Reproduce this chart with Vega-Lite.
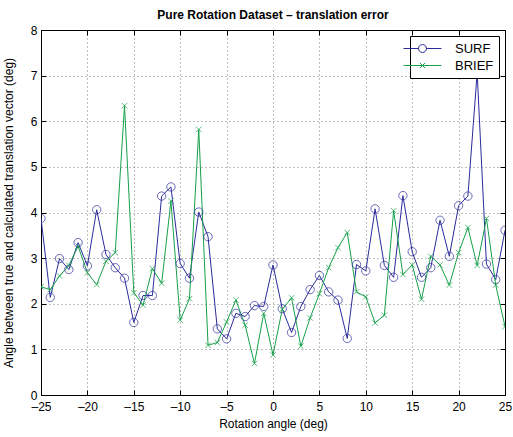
{
  "$schema": "https://vega.github.io/schema/vega-lite/v6.json",
  "autosize": "none",
  "width": 464,
  "height": 365,
  "padding": {"left": 41, "top": 30, "right": 8, "bottom": 42},
  "background": "white",
  "config": {
    "font": "Liberation Sans",
    "view": {"stroke": "black", "strokeWidth": 1},
    "axis": {
      "domainColor": "black",
      "tickColor": "black",
      "labelColor": "black",
      "titleColor": "black",
      "labelFont": "Liberation Sans",
      "titleFont": "Liberation Sans",
      "labelFontSize": 12,
      "titleFontSize": 12,
      "titleFontWeight": "normal",
      "labelFlush": false,
      "tickSize": -5,
      "gridColor": "#000000",
      "gridDash": [1, 3],
      "gridOpacity": 0.5,
      "gridWidth": 1
    }
  },
  "title": {
    "text": "Pure Rotation Dataset – translation error",
    "font": "Liberation Sans",
    "fontSize": 12,
    "fontWeight": "bold",
    "color": "black",
    "offset": 2
  },
  "data": {
    "values": [
      {"angle": -25, "method": "SURF", "error": 3.87}, {"angle": -24, "method": "SURF", "error": 2.14},
      {"angle": -23, "method": "SURF", "error": 2.99}, {"angle": -22, "method": "SURF", "error": 2.75},
      {"angle": -21, "method": "SURF", "error": 3.34}, {"angle": -20, "method": "SURF", "error": 2.83},
      {"angle": -19, "method": "SURF", "error": 4.06}, {"angle": -18, "method": "SURF", "error": 3.08},
      {"angle": -17, "method": "SURF", "error": 2.79}, {"angle": -16, "method": "SURF", "error": 2.56},
      {"angle": -15, "method": "SURF", "error": 1.59}, {"angle": -14, "method": "SURF", "error": 2.18},
      {"angle": -13, "method": "SURF", "error": 2.18}, {"angle": -12, "method": "SURF", "error": 4.36},
      {"angle": -11, "method": "SURF", "error": 4.56}, {"angle": -10, "method": "SURF", "error": 2.88},
      {"angle": -9, "method": "SURF", "error": 2.56}, {"angle": -8, "method": "SURF", "error": 4.01},
      {"angle": -7, "method": "SURF", "error": 3.47}, {"angle": -6, "method": "SURF", "error": 1.45},
      {"angle": -5, "method": "SURF", "error": 1.23}, {"angle": -4, "method": "SURF", "error": 1.79},
      {"angle": -3, "method": "SURF", "error": 1.72}, {"angle": -2, "method": "SURF", "error": 1.96},
      {"angle": -1, "method": "SURF", "error": 1.94}, {"angle": 0, "method": "SURF", "error": 2.85},
      {"angle": 1, "method": "SURF", "error": 1.89}, {"angle": 2, "method": "SURF", "error": 1.37},
      {"angle": 3, "method": "SURF", "error": 1.94}, {"angle": 4, "method": "SURF", "error": 2.31},
      {"angle": 5, "method": "SURF", "error": 2.62}, {"angle": 6, "method": "SURF", "error": 2.26},
      {"angle": 7, "method": "SURF", "error": 2.08}, {"angle": 8, "method": "SURF", "error": 1.24},
      {"angle": 9, "method": "SURF", "error": 2.86}, {"angle": 10, "method": "SURF", "error": 2.72},
      {"angle": 11, "method": "SURF", "error": 4.08}, {"angle": 12, "method": "SURF", "error": 2.84},
      {"angle": 13, "method": "SURF", "error": 2.58}, {"angle": 14, "method": "SURF", "error": 4.37},
      {"angle": 15, "method": "SURF", "error": 3.14}, {"angle": 16, "method": "SURF", "error": 2.58},
      {"angle": 17, "method": "SURF", "error": 2.79}, {"angle": 18, "method": "SURF", "error": 3.83},
      {"angle": 19, "method": "SURF", "error": 3.04}, {"angle": 20, "method": "SURF", "error": 4.15},
      {"angle": 21, "method": "SURF", "error": 4.36}, {"angle": 22, "method": "SURF", "error": 7.06},
      {"angle": 23, "method": "SURF", "error": 2.87}, {"angle": 24, "method": "SURF", "error": 2.53},
      {"angle": 25, "method": "SURF", "error": 3.61},
      {"angle": -25, "method": "BRIEF", "error": 2.37}, {"angle": -24, "method": "BRIEF", "error": 2.31},
      {"angle": -23, "method": "BRIEF", "error": 2.61}, {"angle": -22, "method": "BRIEF", "error": 2.84},
      {"angle": -21, "method": "BRIEF", "error": 3.26}, {"angle": -20, "method": "BRIEF", "error": 2.68},
      {"angle": -19, "method": "BRIEF", "error": 2.42}, {"angle": -18, "method": "BRIEF", "error": 2.93},
      {"angle": -17, "method": "BRIEF", "error": 3.12}, {"angle": -16, "method": "BRIEF", "error": 6.34},
      {"angle": -15, "method": "BRIEF", "error": 2.24}, {"angle": -14, "method": "BRIEF", "error": 1.97},
      {"angle": -13, "method": "BRIEF", "error": 2.77}, {"angle": -12, "method": "BRIEF", "error": 2.45},
      {"angle": -11, "method": "BRIEF", "error": 4.25}, {"angle": -10, "method": "BRIEF", "error": 1.64},
      {"angle": -9, "method": "BRIEF", "error": 2.11}, {"angle": -8, "method": "BRIEF", "error": 5.82},
      {"angle": -7, "method": "BRIEF", "error": 1.09}, {"angle": -6, "method": "BRIEF", "error": 1.15},
      {"angle": -5, "method": "BRIEF", "error": 1.60}, {"angle": -4, "method": "BRIEF", "error": 2.08},
      {"angle": -3, "method": "BRIEF", "error": 1.53}, {"angle": -2, "method": "BRIEF", "error": 0.69},
      {"angle": -1, "method": "BRIEF", "error": 1.79}, {"angle": 0, "method": "BRIEF", "error": 0.88},
      {"angle": 1, "method": "BRIEF", "error": 1.88}, {"angle": 2, "method": "BRIEF", "error": 2.13},
      {"angle": 3, "method": "BRIEF", "error": 1.07}, {"angle": 4, "method": "BRIEF", "error": 1.69},
      {"angle": 5, "method": "BRIEF", "error": 2.22}, {"angle": 6, "method": "BRIEF", "error": 2.79},
      {"angle": 7, "method": "BRIEF", "error": 3.23}, {"angle": 8, "method": "BRIEF", "error": 3.56},
      {"angle": 9, "method": "BRIEF", "error": 2.26}, {"angle": 10, "method": "BRIEF", "error": 2.15},
      {"angle": 11, "method": "BRIEF", "error": 1.58}, {"angle": 12, "method": "BRIEF", "error": 1.75},
      {"angle": 13, "method": "BRIEF", "error": 4.04}, {"angle": 14, "method": "BRIEF", "error": 2.64},
      {"angle": 15, "method": "BRIEF", "error": 2.85}, {"angle": 16, "method": "BRIEF", "error": 2.10},
      {"angle": 17, "method": "BRIEF", "error": 3.04}, {"angle": 18, "method": "BRIEF", "error": 2.85},
      {"angle": 19, "method": "BRIEF", "error": 2.41}, {"angle": 20, "method": "BRIEF", "error": 3.12},
      {"angle": 21, "method": "BRIEF", "error": 3.67}, {"angle": 22, "method": "BRIEF", "error": 2.84},
      {"angle": 23, "method": "BRIEF", "error": 3.87}, {"angle": 24, "method": "BRIEF", "error": 2.41},
      {"angle": 25, "method": "BRIEF", "error": 1.50}
    ]
  },
  "resolve": {"axis": {"x": "independent", "y": "independent"}},
  "layer": [
    {
      "mark": {"type": "line", "strokeWidth": 1, "clip": true},
      "encoding": {
        "x": {
          "field": "angle", "type": "quantitative",
          "scale": {"domain": [-25, 25], "nice": false, "zero": false},
          "axis": {"orient": "bottom", "values": [-25, -20, -15, -10, -5, 0, 5, 10, 15, 20, 25], "title": "Rotation angle (deg)", "labelPadding": 11, "titlePadding": 6, "grid": true, "labelExpr": "replace(datum.label, '−', '–')"}
        },
        "y": {
          "field": "error", "type": "quantitative",
          "scale": {"domain": [0, 8], "nice": false},
          "axis": {
            "orient": "left", "values": [0, 1, 2, 3, 4, 5, 6, 7, 8],
            "title": "Angle between true and calculated translation vector (deg)",
            "labelPadding": 9, "titlePadding": 15, "grid": true,
            "encode": {"labels": {"update": {"dy": {"signal": "datum.value === 0 ? -3 : 0"}}}}
          }
        },
        "color": {
          "field": "method", "type": "nominal",
          "scale": {"domain": ["SURF", "BRIEF"], "range": ["#2b2b9c", "#16a04a"]},
          "legend": {
            "title": null,
            "orient": "top-right",
            "offset": 6,
            "fillColor": "white",
            "strokeColor": "black",
            "padding": 5,
            "labelFont": "Liberation Sans",
            "labelFontSize": 13,
            "labelColor": "black",
            "labelOffset": 25,
            "symbolOffset": 0,
            "symbolSize": 196,
            "symbolStrokeWidth": 1,
            "rowPadding": 2,
            "encode": {
              "symbols": {
                "update": {
                  "shape": {"signal": "datum.value === 'SURF' ? 'M-2.71,0L-0.57,0M0.57,0L2.71,0M-0.57,0A0.57,0.57 0 1,0 0.57,0A0.57,0.57 0 1,0 -0.57,0' : 'M-2.71,0L2.71,0M-0.36,-0.36L0.36,0.36M-0.36,0.36L0.36,-0.36'"},
                  "fill": {"value": "transparent"},
                  "size": {"value": 196}
                }
              }
            }
          }
        }
      }
    },
    {
      "transform": [{"filter": "datum.method === 'SURF'"}],
      "mark": {"type": "point", "shape": "circle", "size": 70, "filled": false, "strokeWidth": 1, "clip": true},
      "encoding": {
        "x": {
          "field": "angle", "type": "quantitative",
          "axis": {"orient": "top", "values": [-25, -20, -15, -10, -5, 0, 5, 10, 15, 20, 25], "labels": false, "title": null, "grid": false, "domain": false}
        },
        "y": {
          "field": "error", "type": "quantitative",
          "axis": {"orient": "right", "values": [0, 1, 2, 3, 4, 5, 6, 7, 8], "labels": false, "title": null, "grid": false, "domain": false}
        },
        "color": {"field": "method", "type": "nominal", "legend": null}
      }
    },
    {
      "transform": [{"filter": "datum.method === 'BRIEF'"}],
      "mark": {"type": "point", "shape": "M-1,-1L1,1M-1,1L1,-1", "size": 30, "filled": false, "strokeWidth": 1, "clip": true},
      "encoding": {
        "x": {"field": "angle", "type": "quantitative", "axis": null},
        "y": {"field": "error", "type": "quantitative", "axis": null},
        "color": {"field": "method", "type": "nominal", "legend": null}
      }
    }
  ]
}
